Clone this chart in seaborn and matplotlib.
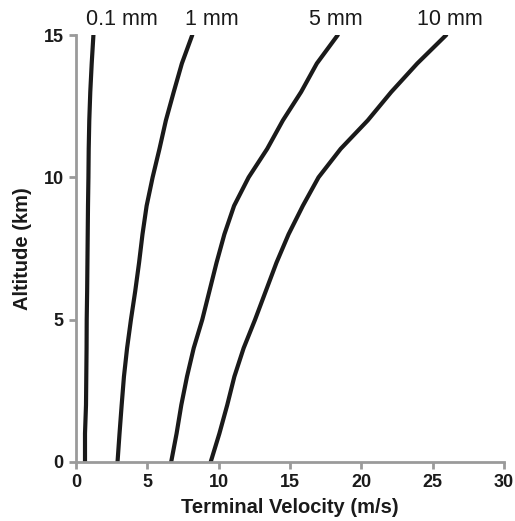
import numpy as np
import pandas as pd
import matplotlib
matplotlib.use("Agg")
import matplotlib.pyplot as plt
import seaborn as sns

altitude = [0, 1, 2, 3, 4, 5, 6, 7, 8, 9, 10, 11, 12, 13, 14, 15]
v_01mm = [0.63, 0.63, 0.70, 0.72, 0.74, 0.75, 0.78, 0.80, 0.82, 0.84, 0.87, 0.89, 0.93, 1.00, 1.10, 1.22]
v_1mm = [2.91, 3.05, 3.20, 3.36, 3.58, 3.85, 4.15, 4.42, 4.66, 4.95, 5.37, 5.85, 6.30, 6.85, 7.42, 8.15]
v_5mm = [6.67, 7.05, 7.38, 7.78, 8.25, 8.85, 9.35, 9.85, 10.40, 11.08, 12.10, 13.40, 14.50, 15.78, 16.88, 18.35]
v_10mm = [9.44, 10.05, 10.60, 11.10, 11.75, 12.55, 13.30, 14.05, 14.90, 15.90, 17.00, 18.55, 20.45, 22.10, 23.92, 25.95]
series_labels = ["0.1 mm", "1 mm", "5 mm", "10 mm"]
label_x = [3.2, 9.5, 18.2, 26.2]
x_ticks = [0, 5, 10, 15, 20, 25, 30]
y_ticks = [0, 5, 10, 15]

frames = []
for lab, vals in zip(series_labels, [v_01mm, v_1mm, v_5mm, v_10mm]):
    frames.append(pd.DataFrame({"velocity": vals, "altitude": altitude, "size": lab}))
df = pd.concat(frames, ignore_index=True)

sns.set_theme(style="ticks")
plt.rcParams["font.family"] = ["Liberation Sans", "DejaVu Sans"]

fig = plt.figure(figsize=(5.15, 5.21), dpi=100)
ax = fig.add_axes([0.1476, 0.1133, 0.8310, 0.8195])

sns.lineplot(data=df, x="velocity", y="altitude", hue="size", sort=False,
             estimator=None, palette=["#1a1a1a"] * 4, linewidth=3.0,
             legend=False, ax=ax)

ax.set_xlim(0, 30)
ax.set_ylim(0, 15)
ax.set_xticks(x_ticks)
ax.set_yticks(y_ticks)
ax.set_xticklabels([str(t) for t in x_ticks], fontsize=13, fontweight="bold", color="#1a1a1a")
ax.set_yticklabels([str(t) for t in y_ticks], fontsize=13, fontweight="bold", color="#1a1a1a")
ax.set_xlabel("Terminal Velocity (m/s)", fontsize=14.5, fontweight="bold", color="#1a1a1a", labelpad=5)
ax.set_ylabel("Altitude (km)", fontsize=14.5, fontweight="bold", color="#1a1a1a", labelpad=8)

for side in ["top", "right"]:
    ax.spines[side].set_visible(False)
for side in ["left", "bottom"]:
    ax.spines[side].set_color("#9a9a9a")
    ax.spines[side].set_linewidth(2.0)
ax.tick_params(axis="both", colors="#9a9a9a", width=2.0, length=5, pad=4, labelcolor="#1a1a1a")

for lab, lx in zip(series_labels, label_x):
    ax.text(lx, 15.55, lab, ha="center", va="center", fontsize=15.5, color="#1a1a1a", clip_on=False)

fig.savefig("out.png", dpi=100, facecolor="white")
